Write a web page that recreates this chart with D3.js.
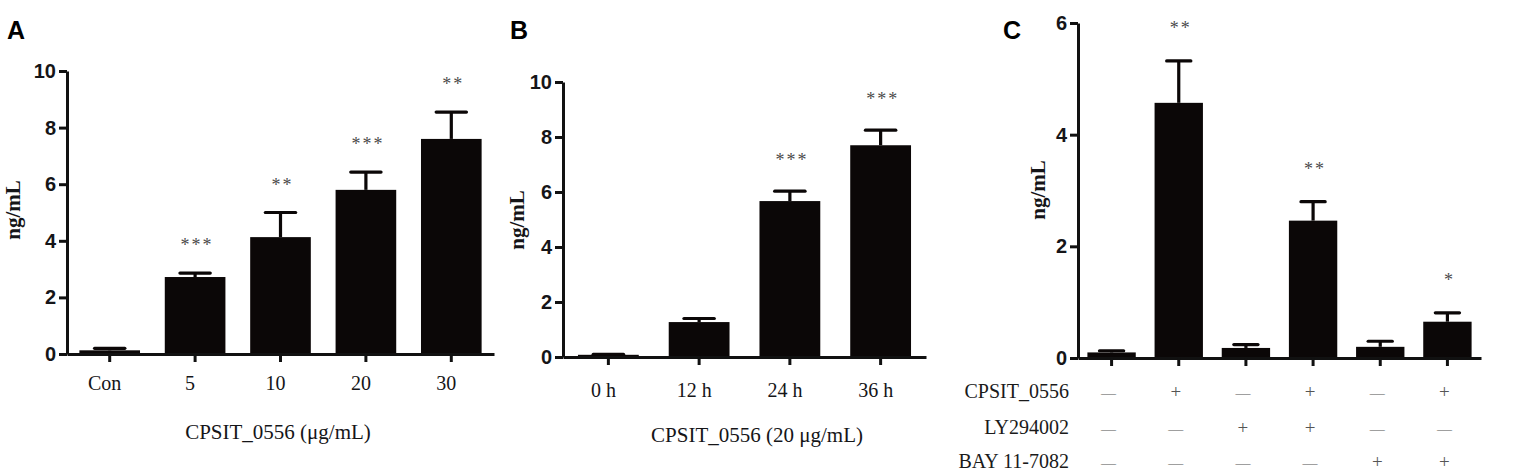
<!DOCTYPE html>
<html>
<head>
<meta charset="utf-8">
<script src="https://cdn.jsdelivr.net/npm/d3@7"></script>
<style>
  html, body { margin: 0; padding: 0; background: #fff; }
  svg { display: block; }
  .tick text { fill: #151518; }
</style>
</head>
<body>
<svg id="chart" width="1527" height="473"></svg>
<script>
// Panel A: dose response
const doseLabels = ['Con', '5', '10', '20', '30'];
const doseMeans = [0.13, 2.72, 4.13, 5.8, 7.6];
const doseErrors = [0.07, 0.14, 0.87, 0.63, 0.95];
const doseStars = ['', '***', '**', '***', '**'];

// Panel B: time course
const timeLabels = ['0 h', '12 h', '24 h', '36 h'];
const timeMeans = [0.08, 1.27, 5.67, 7.7];
const timeErrors = [0.02, 0.13, 0.36, 0.55];
const timeStars = ['', '', '***', '***'];

// Panel C: inhibitors
const inhibGroups = ['g1', 'g2', 'g3', 'g4', 'g5', 'g6'];
const inhibMeans = [0.1, 4.57, 0.18, 2.46, 0.2, 0.65];
const inhibErrors = [0.03, 0.75, 0.06, 0.34, 0.1, 0.16];
const inhibStars = ['', '**', '', '**', '', '*'];
const treatmentNames = ['CPSIT_0556', 'LY294002', 'BAY 11-7082'];
const cpsitRow = ['—', '+', '—', '+', '—', '+'];
const lyRow = ['—', '—', '+', '+', '—', '—'];
const bayRow = ['—', '—', '—', '—', '+', '+'];

const yTicksA = [0, 2, 4, 6, 8, 10];
const yTicksC = [0, 2, 4, 6];

const svg = d3.select('#chart');
const INK = '#0b0707';
const SERIF = '"Liberation Serif", "Times New Roman", serif';
const SANS = '"Liberation Sans", Arial, sans-serif';

function drawPanel(p) {
  const g = svg.append('g');

  const x = d3.scaleBand()
    .domain(p.categories)
    .range([p.left, p.right])
    .paddingInner(p.pad)
    .paddingOuter(p.pad / 2);

  const y = d3.scaleLinear().domain([0, p.yMax]).range([p.bottom, p.top]);
  const cx = i => x(p.categories[i]) + x.bandwidth() / 2;

  // bars
  g.selectAll('rect.bar')
    .data(p.means)
    .enter().append('rect')
    .attr('class', 'bar')
    .attr('x', (d, i) => x(p.categories[i]))
    .attr('width', x.bandwidth())
    .attr('y', d => y(d))
    .attr('height', d => y(0) - y(d))
    .attr('fill', INK);

  // error bars, upper half only
  const capW = x.bandwidth() * 0.5;
  const err = g.selectAll('g.err')
    .data(p.means)
    .enter().append('g')
    .attr('class', 'err')
    .attr('stroke', INK)
    .attr('stroke-width', 3.2);
  err.append('line')
    .attr('x1', (d, i) => cx(i))
    .attr('x2', (d, i) => cx(i))
    .attr('y1', d => y(d))
    .attr('y2', (d, i) => y(d + p.errors[i]));
  err.append('line')
    .attr('x1', (d, i) => cx(i) - capW / 2)
    .attr('x2', (d, i) => cx(i) + capW / 2)
    .attr('y1', (d, i) => y(d + p.errors[i]))
    .attr('y2', (d, i) => y(d + p.errors[i]))
    .attr('stroke-linecap', 'round');

  // significance marks
  g.selectAll('text.star')
    .data(p.stars)
    .enter().append('text')
    .attr('class', 'star')
    .attr('x', (d, i) => cx(i) + 2)
    .attr('y', (d, i) => y(p.means[i] + p.errors[i]) - p.starGap)
    .attr('text-anchor', 'middle')
    .attr('font-family', SERIF)
    .attr('font-size', 18)
    .attr('letter-spacing', 2)
    .attr('fill', '#4a4a4a')
    .text(d => d);

  // axes
  const yAxis = g.append('g')
    .attr('transform', `translate(${p.left},0)`)
    .call(d3.axisLeft(y).tickValues(p.yTicks).tickFormat(d3.format('d'))
      .tickSize(8).tickSizeOuter(0).tickPadding(3));
  yAxis.selectAll('text')
    .attr('font-family', SANS)
    .attr('font-weight', 'bold')
    .attr('font-size', 20);

  const xAxis = g.append('g')
    .attr('transform', `translate(0,${p.bottom})`)
    .call(d3.axisBottom(x).tickSize(8).tickSizeOuter(0).tickPadding(p.labelPad)
      .tickFormat(p.showLabels ? (d => d) : () => ''));
  xAxis.selectAll('text')
    .attr('font-family', SERIF)
    .attr('font-size', 20)
    .attr('dx', -5);

  [yAxis, xAxis].forEach(a => {
    a.select('.domain').attr('stroke', '#111').attr('stroke-width', 3);
    a.selectAll('.tick line').attr('stroke', '#111').attr('stroke-width', 3);
  });

  // y title
  g.append('text')
    .attr('transform', `translate(${p.yTitleX},${p.yTitleY}) rotate(-90)`)
    .attr('text-anchor', 'middle')
    .attr('font-family', SERIF)
    .attr('font-weight', 'bold')
    .attr('font-size', 21)
    .attr('fill', '#151518')
    .text('ng/mL');

  if (p.xTitle) {
    g.append('text')
      .attr('x', p.xTitleX)
      .attr('y', p.xTitleY)
      .attr('text-anchor', 'middle')
      .attr('font-family', SERIF)
      .attr('font-size', 21)
      .attr('fill', '#151518')
      .text(p.xTitle);
  }

  // panel letter
  g.append('text')
    .attr('x', p.letterX)
    .attr('y', 39)
    .attr('font-family', SANS)
    .attr('font-weight', 'bold')
    .attr('font-size', 25)
    .attr('fill', '#000')
    .text(p.letter);

  return x;
}

drawPanel({
  letter: 'A', letterX: 7,
  categories: doseLabels, means: doseMeans, errors: doseErrors, stars: doseStars,
  left: 67, right: 494, top: 71, bottom: 354, yMax: 10, yTicks: yTicksA, pad: 0.29,
  starGap: 22, showLabels: true, labelPad: 14,
  yTitleX: 20, yTitleY: 210,
  xTitle: 'CPSIT_0556 (μg/mL)', xTitleX: 278, xTitleY: 439
});

drawPanel({
  letter: 'B', letterX: 510,
  categories: timeLabels, means: timeMeans, errors: timeErrors, stars: timeStars,
  left: 563, right: 926, top: 82, bottom: 357, yMax: 10, yTicks: yTicksA, pad: 0.33,
  starGap: 25, showLabels: true, labelPad: 18,
  yTitleX: 524, yTitleY: 220,
  xTitle: 'CPSIT_0556 (20 μg/mL)', xTitleX: 757, xTitleY: 442
});

const xC = drawPanel({
  letter: 'C', letterX: 1003,
  categories: inhibGroups, means: inhibMeans, errors: inhibErrors, stars: inhibStars,
  left: 1078, right: 1481, top: 23, bottom: 358, yMax: 6, yTicks: yTicksC, pad: 0.28,
  starGap: 27, showLabels: false, labelPad: 0,
  yTitleX: 1045, yTitleY: 190,
  xTitle: null
});

// treatment table under panel C
const treatmentRows = [cpsitRow, lyRow, bayRow];
const rowBaselines = [398, 434, 468];
const table = svg.append('g').attr('font-family', SERIF).attr('fill', '#1a1a1a');

table.selectAll('text.rowname')
  .data(treatmentNames)
  .enter().append('text')
  .attr('class', 'rowname')
  .attr('x', 1069)
  .attr('y', (d, i) => rowBaselines[i])
  .attr('text-anchor', 'end')
  .attr('font-size', 20)
  .text(d => d);

treatmentRows.forEach((row, r) => {
  table.selectAll(null)
    .data(row)
    .enter().append('text')
    .attr('x', (d, i) => xC(inhibGroups[i]) + xC.bandwidth() / 2 - 3)
    .attr('y', rowBaselines[r])
    .attr('text-anchor', 'middle')
    .attr('font-size', d => d === '+' ? 19 : 15)
    .attr('fill', '#555')
    .text(d => d);
});
</script>
</body>
</html>
